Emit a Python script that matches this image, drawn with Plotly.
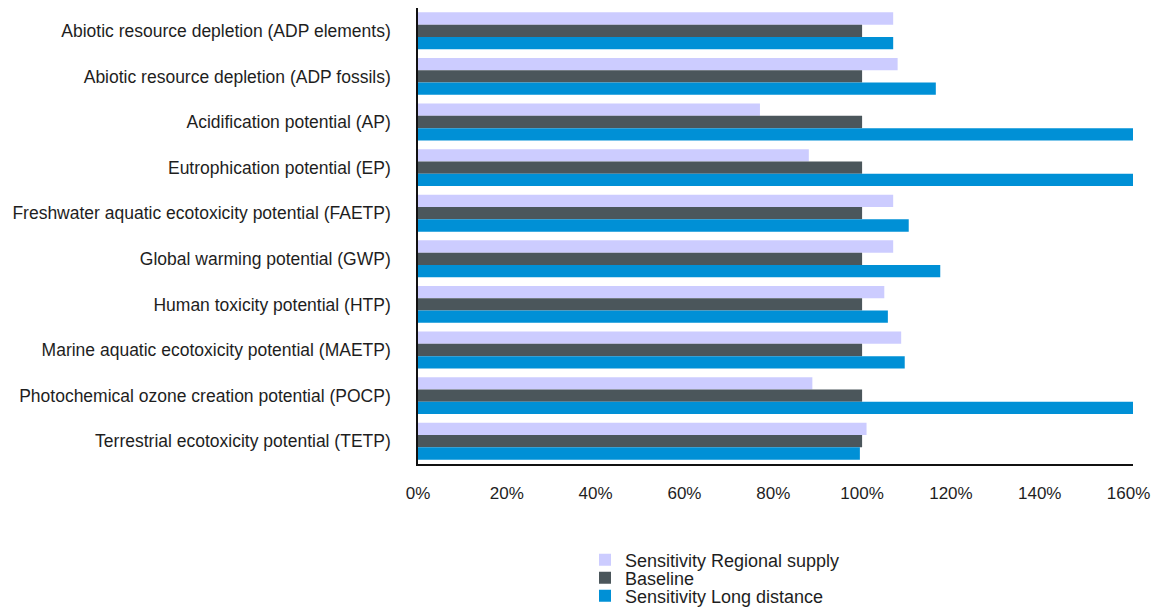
import plotly.graph_objects as go

categories = [
    "Abiotic resource depletion (ADP elements)",
    "Abiotic resource depletion (ADP fossils)",
    "Acidification potential (AP)",
    "Eutrophication potential (EP)",
    "Freshwater aquatic ecotoxicity potential (FAETP)",
    "Global warming potential (GWP)",
    "Human toxicity potential (HTP)",
    "Marine aquatic ecotoxicity potential (MAETP)",
    "Photochemical ozone creation potential (POCP)",
    "Terrestrial ecotoxicity potential (TETP)",
]
regional = [107, 108, 77, 88, 107, 107, 105, 108.8, 88.8, 101]
baseline = [100, 100, 100, 100, 100, 100, 100, 100, 100, 100]
long_distance = [107, 116.6, 161, 161, 110.5, 117.6, 105.8, 109.6, 161, 99.5]

x_ticks = [0, 20, 40, 60, 80, 100, 120, 140, 160]
x_tick_labels = ["0%", "20%", "40%", "60%", "80%", "100%", "120%", "140%", "160%"]

series = [
    ("Sensitivity Regional supply", regional, "#CCCCFF", "legend"),
    ("Baseline", baseline, "#4B565B", "legend2"),
    ("Sensitivity Long distance", long_distance, "#0090D6", "legend3"),
]

W, H = 1154, 608
ML, MR, MT, MB = 418, 21, 8, 144
PW = W - ML - MR
PH = H - MT - MB

fig = go.Figure()
for name, vals, color, lg in series:
    fig.add_trace(go.Bar(
        y=categories, x=vals, name=name, orientation="h",
        marker=dict(color=color, line=dict(width=0)),
        legend=lg,
    ))

def px_to_paper_x(px):
    return (px - ML) / PW

def px_to_paper_y(py):
    return (H - MB - py) / PH

legend_font = dict(family="Liberation Sans, Arial, sans-serif", size=18, color="#1e1e1e")
legend_common = dict(xanchor="left", yanchor="middle", font=legend_font,
                     bgcolor="rgba(0,0,0,0)", itemwidth=30)
lx = px_to_paper_x(585)

fig.update_layout(
    width=W, height=H,
    barmode="group", bargap=0.19, bargroupgap=0,
    plot_bgcolor="white", paper_bgcolor="white",
    margin=dict(l=ML, r=MR, t=MT, b=MB, autoexpand=False),
    font=dict(family="Liberation Sans, Arial, sans-serif", size=17, color="#1e1e1e"),
    showlegend=True,
    legend=dict(x=lx, y=px_to_paper_y(560), **legend_common),
    legend2=dict(x=lx, y=px_to_paper_y(578), **legend_common),
    legend3=dict(x=lx, y=px_to_paper_y(596), **legend_common),
)
fig.update_xaxes(
    range=[0, 161], tickvals=x_ticks, ticktext=x_tick_labels,
    showgrid=False, zeroline=False, showline=True, linecolor="#111111", linewidth=1.5,
    ticks="", ticklabelstandoff=13, automargin=False,
    tickfont=dict(size=17),
)
fig.update_yaxes(
    autorange="reversed", showgrid=False, showline=True, linecolor="#111111", linewidth=1.5,
    ticks="", ticklabelstandoff=22, automargin=False,
    tickfont=dict(size=17.5),
)

fig.write_html(
    "out.html",
    config={"displayModeBar": False},
    post_script="document.documentElement.style.margin='0';"
                "document.body.style.margin='0';"
                "document.body.style.overflow='hidden';",
)
